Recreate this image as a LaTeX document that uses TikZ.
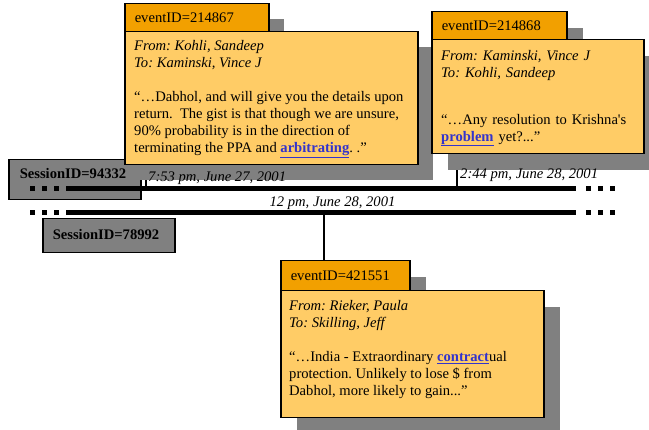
\documentclass[tikz,border=0pt]{standalone}
\usepackage{fontspec}
\setmainfont{Liberation Serif}
\usetikzlibrary{shadows,backgrounds}
\definecolor{hdrc}{RGB}{242,160,0}
\definecolor{bodyc}{RGB}{255,204,102}
\definecolor{shadc}{RGB}{128,128,128}
\definecolor{linkc}{RGB}{51,51,204}
\newcommand{\lnk}[1]{\textcolor{linkc}{\bfseries\underline{#1}}}
\newcommand{\sqt}{{\addfontfeatures{Ligatures=TeXOff}'}}
\frenchspacing
\begin{document}
\begin{tikzpicture}[x=1pt,y=-1pt,
  txt/.style={inner sep=0pt, font=\fontsize{14.6pt}{17pt}\selectfont},
  shad/.style={drop shadow={shadow xshift=#1, shadow yshift=-#1, fill=shadc, opacity=1, draw=none}},
  hdrbox/.style={draw=black, line width=1.5pt, fill=hdrc, anchor=north west, inner xsep=10pt, inner ysep=0pt, align=left, minimum height=28pt, font=\fontsize{14.6pt}{17pt}\selectfont},
  bodybox/.style={draw=black, line width=1.5pt, fill=bodyc, anchor=north west, inner sep=0pt},
  sessbox/.style={draw=black, line width=1.5pt, fill=shadc, anchor=north west, inner sep=0pt},
  sesstxt/.style={txt, font=\fontsize{14.6pt}{17pt}\selectfont\bfseries},
  conn/.style={line width=1.5pt},
  tline/.style={line width=5pt},
  tdots/.style={line width=5pt, dash pattern=on 5pt off 7pt},
  datelbl/.style={txt, font=\fontsize{14.6pt}{17pt}\selectfont\itshape},
  bodytxt/.style={txt, anchor=north west, align=left}
]
\useasboundingbox (0,0) rectangle (649,430);

% session boxes
\node[sessbox, minimum width=132pt, minimum height=40pt] (s1) at (8,159) {};
\node[sesstxt] (s1t) at (73,174) {SessionID=94332};
\node[sessbox, minimum width=132pt, minimum height=34pt] (s2) at (42,218) {};
\node[sesstxt] (s2t) at (106,235) {SessionID=78992};

% timelines
\coordinate (l1a) at (30,189);
\coordinate (l1b) at (66,189);
\coordinate (l1c) at (576,189);
\coordinate (l1d) at (586,189);
\coordinate (l1e) at (616,189);
\coordinate (l2a) at (30,213);
\coordinate (l2b) at (66,213);
\coordinate (l2c) at (576,213);
\coordinate (l2d) at (586,213);
\coordinate (l2e) at (616,213);
\draw[tdots] (l1a) -- (l1b);
\draw[tline] (l1b) -- (l1c);
\draw[tdots] (l1d) -- (l1e);
\draw[tdots] (l2a) -- (l2b);
\draw[tline] (l2b) -- (l2c);
\draw[tdots] (l2d) -- (l2e);

% event anchors on timelines
\coordinate (e1) at (146,187);
\coordinate (e2) at (457,187);
\coordinate (e3) at (324,215);

% event boxes
\node[hdrbox, shad=15.5pt, text width=124pt] (h1) at (124,3) {eventID=214867};
\node[bodybox, shad=15pt, minimum width=293pt, minimum height=133pt] (b1) at (124,31) {};
\node[hdrbox, shad=16pt, text width=115pt] (h2) at (431,11) {eventID=214868};
\node[bodybox, shad=16pt, minimum width=212pt, minimum height=114pt] (b2) at (431,39) {};
\node[hdrbox, shad=16.5pt, text width=109pt, minimum height=30pt] (h3) at (280,260) {eventID=421551};
\node[bodybox, shad=16pt, minimum width=263pt, minimum height=127pt] (b3) at (280,290) {};

\node[bodytxt] (t1) at (134,40) {\textit{From: Kohli, Sandeep}\\
\textit{To: Kaminski, Vince J}\\[17.6pt]
“…Dabhol, and will give you the details upon\\
return.\ \ The gist is that though we are unsure,\\
90\% probability is in the direction of\\
terminating the PPA and \lnk{arbitrating}. .”};

\node[txt, anchor=north west, text width=191pt] (t2) at (441,50) {\noindent\textit{From: Kaminski, Vince J}\\
\textit{To: Kohli, Sandeep}\\[29.7pt]
“…Any resolution to Krishna\sqt s\linebreak \lnk{problem} yet?...”};

\node[bodytxt] (t3) at (289,300) {\textit{From: Rieker, Paula}\\
\textit{To: Skilling, Jeff}\\[17.4pt]
“…India - Extraordinary \lnk{contract}ual\\
protection. Unlikely to lose \$ from\\
Dabhol, more likely to gain...”};

% date labels
\node[datelbl, anchor=west] (d1) at (148,178) {7:53 pm, June 27, 2001};
\node[datelbl, anchor=west] (d2) at (460,175) {2:44 pm, June 28, 2001};
\node[datelbl] (d3) at (332.5,203) {12 pm, June 28, 2001};

% connectors (behind the boxes and their shadows)
\begin{pgfonlayer}{background}
\draw[conn] (e1) -- (e1 |- b1.south);
\draw[conn] (e2) -- (e2 |- b2.south);
\end{pgfonlayer}
\draw[conn] (e3) -- (e3 |- h3.north);
\end{tikzpicture}
\end{document}
